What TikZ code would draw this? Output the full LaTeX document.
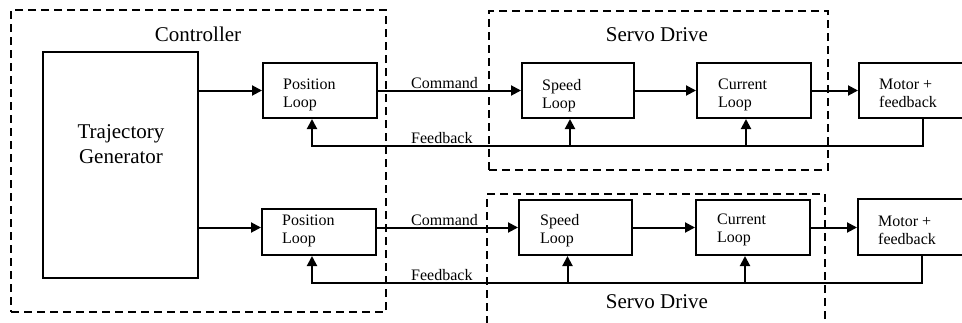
\documentclass[tikz,border=0pt]{standalone}
\usepackage{fontspec}
\setmainfont{Liberation Serif}
\usetikzlibrary{arrows.meta,calc}
\begin{document}
\begin{tikzpicture}[x=1pt,y=-1pt,
  blk/.style={draw, line width=2pt, minimum height=55pt, inner sep=0pt},
  grp/.style={draw, line width=1.8pt, dash pattern=on 8pt off 5pt, inner sep=0pt},
  arr/.style={line width=2pt, -{Triangle[length=10pt,width=10pt]}},
  small/.style={font=\fontsize{16}{18}\selectfont, inner sep=0pt, align=left, anchor=north west},
  big/.style={font=\fontsize{21}{25}\selectfont, inner sep=0pt},
  sig/.style={font=\fontsize{16}{18}\selectfont, inner sep=0pt, anchor=base west}]
\useasboundingbox (0,0) rectangle (962,322);

% dashed grouping frames
\node[grp, minimum width=375pt, minimum height=302pt] (ctrl) at (198.5,161) {};
\node[grp, minimum width=339pt, minimum height=159pt] (drvA) at (658.5,90.5) {};
\node[grp, minimum width=338pt, minimum height=138pt] (drvB) at (656,263) {};
\node[big, anchor=base] (ctrlT) at (198,41) {Controller};
\node[big, anchor=base] (drvAT) at (657,41) {Servo Drive};
\node[big, anchor=base] (drvBT) at (657,308) {Servo Drive};

% trajectory generator
\node[blk, minimum width=155pt, minimum height=226pt] (tg) at (120.5,165) {};
\node[big, align=center, anchor=north] (tgT) at (121,124) {Trajectory\\Generator};

% upper axis
\node[blk, minimum width=114pt] (pl1) at (320,90.5) {};
\node[blk, minimum width=112pt] (sl1) at (578,90.5) {};
\node[blk, minimum width=114pt] (cl1) at (754,90.5) {};
\node[blk, minimum width=128pt] (m1) at (923,90.5) {};
\node[small] (pl1T) at (283,79) {Position\\Loop};
\node[small] (sl1T) at (542,79) {Speed\\Loop};
\node[small] (cl1T) at (718,79) {Current\\Loop};
\node[small] (m1T) at (879,79) {Motor +\\feedback};

% lower axis
\node[blk, minimum width=114pt, minimum height=46pt] (pl2) at (319,232) {};
\node[blk, minimum width=113pt] (sl2) at (575.5,227.5) {};
\node[blk, minimum width=114pt] (cl2) at (753,227.5) {};
\node[blk, minimum width=128pt, minimum height=56pt] (m2) at (922,227) {};
\node[small] (pl2T) at (282,215) {Position\\Loop};
\node[small] (sl2T) at (540,214) {Speed\\Loop};
\node[small] (cl2T) at (717,214) {Current\\Loop};
\node[small] (m2T) at (878,216) {Motor +\\feedback};

% signal labels
\node[sig] (cmd1) at (411,88) {Command};
\node[sig] (fbk1) at (411,143) {Feedback};
\node[sig] (cmd2) at (411,225.5) {Command};
\node[sig] (fbk2) at (411,280) {Feedback};

% forward paths
\draw[arr] (tg.east |- pl1.west) -- (pl1.west);
\draw[arr] (pl1.east) -- (sl1.west);
\draw[arr] (sl1.east) -- (cl1.west);
\draw[arr] (cl1.east) -- (m1.west);
\draw[arr] (tg.east |- sl2.west) -- (pl2.west |- sl2.west);
\draw[arr] (pl2.east |- sl2.west) -- (sl2.west);
\draw[arr] (sl2.east) -- (cl2.west);
\draw[arr] (cl2.east) -- (cl2.east -| m2.west);

% feedback paths
\coordinate (fb1) at (312,146);
\coordinate (s1in) at ([xshift=-8pt]sl1.south);
\coordinate (c1in) at ([xshift=-8pt]cl1.south);
\draw[arr] (m1.south) |- (fb1) -- (fb1 |- pl1.south);
\draw[arr] (s1in |- fb1) -- (s1in);
\draw[arr] (c1in |- fb1) -- (c1in);

\coordinate (fb2) at (312,283);
\coordinate (s2in) at ([xshift=-8pt]sl2.south);
\coordinate (c2in) at ([xshift=-8pt]cl2.south);
\draw[arr] (m2.south) |- (fb2) -- (fb2 |- pl2.south);
\draw[arr] (s2in |- fb2) -- (s2in);
\draw[arr] (c2in |- fb2) -- (c2in);
\end{tikzpicture}
\end{document}
